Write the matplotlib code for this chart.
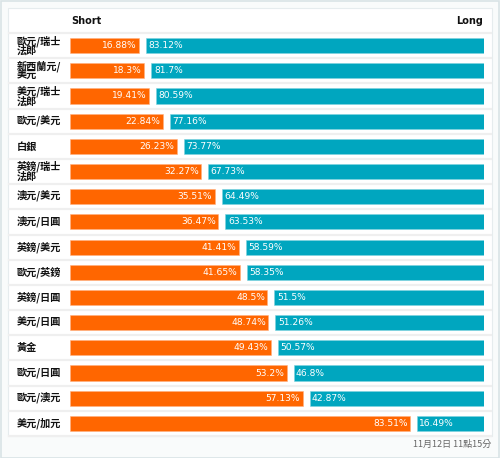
import matplotlib.pyplot as plt
from matplotlib.patches import Rectangle
from matplotlib import transforms

plt.rcParams['font.family'] = ['Noto Sans CJK TC', 'DejaVu Sans']

pares = ["歐元/瑞士\n法郎", "新西蘭元/\n美元", "美元/瑞士\n法郎", "歐元/美元", "白銀",
         "英鎊/瑞士\n法郎", "澳元/美元", "澳元/日圓", "英鎊/美元", "歐元/英鎊",
         "英鎊/日圓", "美元/日圓", "黃金", "歐元/日圓", "歐元/澳元", "美元/加元"]
short = [16.88, 18.3, 19.41, 22.84, 26.23, 32.27, 35.51, 36.47,
         41.41, 41.65, 48.5, 48.74, 49.43, 53.2, 57.13, 83.51]
long_ = [83.12, 81.7, 80.59, 77.16, 73.77, 67.73, 64.49, 63.53,
         58.59, 58.35, 51.5, 51.26, 50.57, 46.8, 42.87, 16.49]
hora = "11月12日 11點15分"

naranja = "#ff6600"
azul = "#00a6bf"
hueco = 1.72  # espacio entre barras, en unidades de %

fig = plt.figure(figsize=(5, 4.58), dpi=100)
fig.patch.set_facecolor("#f9fbfb")
# marco exterior y panel blanco (detrás de los ejes)
fig.patches.append(Rectangle((0.001, 0.001), 0.997, 0.997, transform=fig.transFigure,
                             fill=False, edgecolor="#d9e3e6", lw=1.2, zorder=-10))
fig.patches.append(Rectangle((8/500, 1 - 436/458), 484/500, 428/458, transform=fig.transFigure,
                             facecolor="white", edgecolor="#e6ecee", lw=0.8, zorder=-10))

ax = fig.add_axes([70/500, 1 - 436/458, 414/500, 403/458])
ax.set_facecolor("none")
n = len(pares)
y = list(range(n))

ax.barh(y, short, height=0.6, color=naranja, edgecolor="#ffb080", lw=0.4)
ax.barh(y, long_, left=[s + hueco for s in short], height=0.6, color=azul,
        edgecolor="#7fd3df", lw=0.4)

for i in range(n):
    ax.text(short[i] - 0.6, i, f"{short[i]:g}%", color="white", fontsize=6.6,
            ha="right", va="center", family="DejaVu Sans")
    ax.text(short[i] + hueco + 0.6, i, f"{long_[i]:g}%", color="white", fontsize=6.6,
            ha="left", va="center", family="DejaVu Sans")

ax.set_xlim(0, 100 + hueco)
ax.set_ylim(n - 0.5, -0.5)
ax.axis("off")

tr = transforms.blended_transform_factory(fig.transFigure, ax.transData)
for i in range(n + 1):
    ax.plot([9/500, 491/500], [i - 0.5, i - 0.5], transform=tr, color="#efefef",
            lw=1.6, clip_on=False, zorder=0)
for i, p in enumerate(pares):
    ax.text(17/500, i, p, transform=tr, fontsize=7.3, fontweight="bold", ha="left",
            va="center", linespacing=0.92, color="#111111")

ax.text(0.3, -0.98, "Short", fontsize=7, fontweight="bold", ha="left", va="center",
        family="DejaVu Sans", color="#111111")
ax.text(100 + hueco - 0.3, -0.98, "Long", fontsize=7, fontweight="bold", ha="right",
        va="center", family="DejaVu Sans", color="#111111")

fig.text(491/500, 1 - 444/458, hora, fontsize=6.5, ha="right", va="center", color="#666666")

fig.savefig("out.png", dpi=100, facecolor=fig.get_facecolor())
